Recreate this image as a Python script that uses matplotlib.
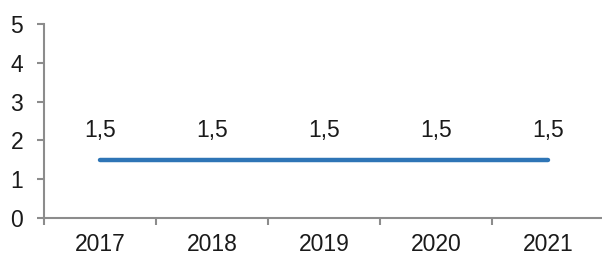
import numpy as np
import matplotlib
matplotlib.use("Agg")
import matplotlib.pyplot as plt

years = ["2017", "2018", "2019", "2020", "2021"]
values = [1.5, 1.5, 1.5, 1.5, 1.5]
labels = ["1,5", "1,5", "1,5", "1,5", "1,5"]

plt.rcParams['font.family'] = ['Liberation Sans', 'DejaVu Sans']
grey = "#8c8c8c"
txt = "#1a1a1a"

fig = plt.figure(figsize=(6.02, 2.57), dpi=100)
ax = fig.add_axes([0.073, 0.152, 0.93, 0.755])

x = np.arange(len(years))
ax.plot(x, values, color="#2e75b6", linewidth=3.2, solid_capstyle="round")
for xi, v, t in zip(x, values, labels):
    ax.annotate(t, (xi, v), xytext=(0, 13), textcoords="offset points",
                ha="center", va="bottom", fontsize=16.5, color=txt)

ax.set_xlim(-0.5, 4.5)
ax.set_ylim(0, 5)
ax.set_yticks(range(6))
ax.set_xticks(x)
ax.set_xticklabels(years)
ax.set_xticks(np.arange(-0.5, 5, 1), minor=True)

ax.tick_params(axis="x", which="major", length=0, pad=11, labelsize=16.5, labelcolor=txt)
ax.tick_params(axis="x", which="minor", length=5, width=1.5, color=grey)
ax.tick_params(axis="y", length=5, width=1.5, color=grey, pad=10, labelsize=16.5, labelcolor=txt)

for s in ["top", "right"]:
    ax.spines[s].set_visible(False)
for s in ["left", "bottom"]:
    ax.spines[s].set_color(grey)
    ax.spines[s].set_linewidth(1.5)

fig.savefig("out.png", dpi=100)
